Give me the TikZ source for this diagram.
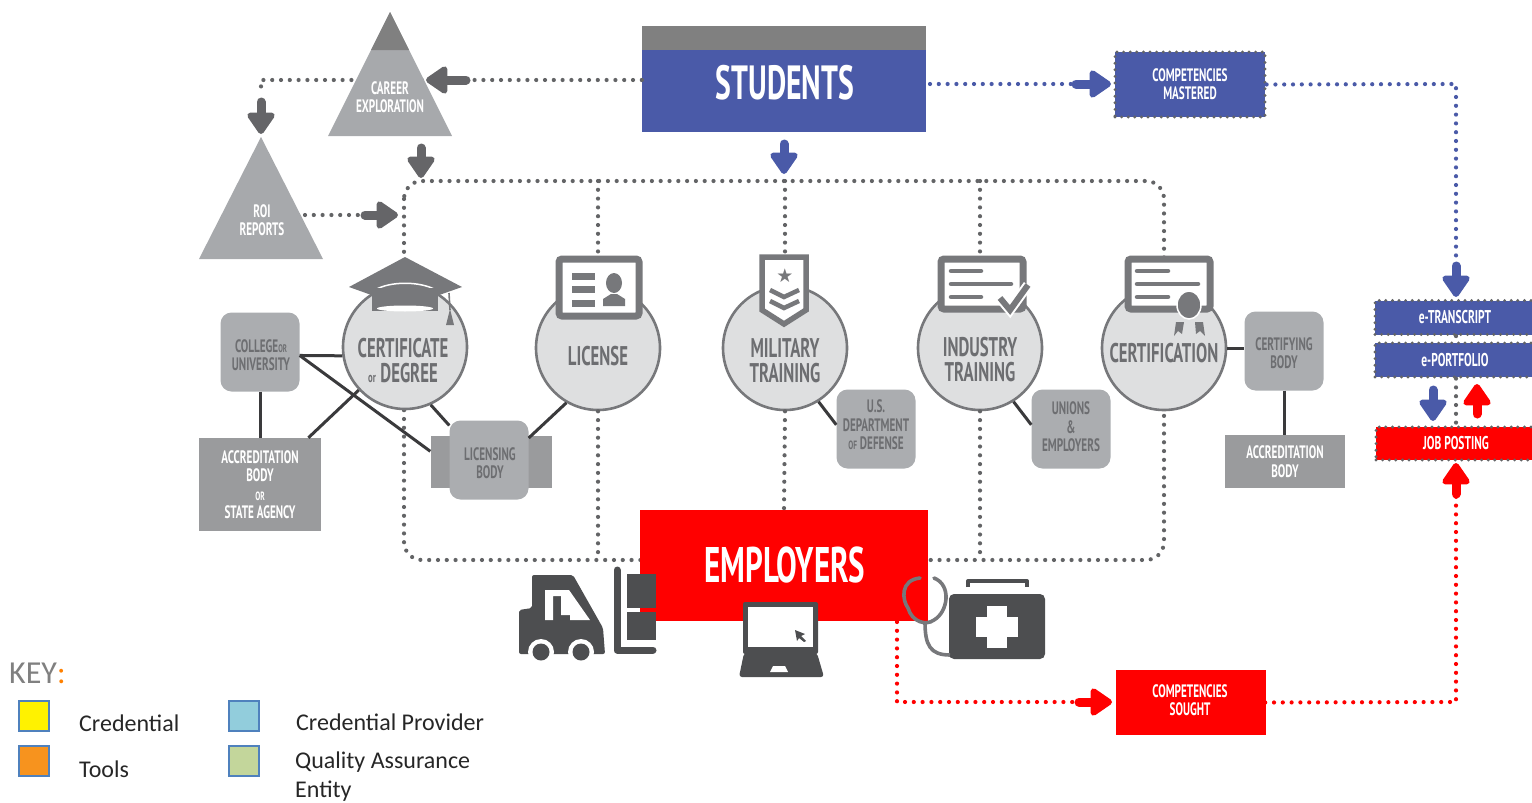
\documentclass[tikz,border=0pt]{standalone}
\usepackage{fontspec}
\setmainfont{Carlito}
\newfontfamily\capfont[FakeStretch=0.62]{PT Sans}
\newfontfamily\circlefont[FakeStretch=0.62]{PT Sans}
\newfontfamily\symbolfont{DejaVu Sans}
\usetikzlibrary{arrows.meta}
\definecolor{studentblue}{HTML}{4A5AA8}
\definecolor{employerred}{HTML}{FF0000}
\definecolor{bandgray}{HTML}{808080}
\definecolor{trianglegray}{HTML}{A7A9AC}
\definecolor{circlegray}{HTML}{DEDFE0}
\definecolor{edgegray}{HTML}{77787B}
\definecolor{providergray}{HTML}{ABADB0}
\definecolor{qualitygray}{HTML}{9A9B9D}
\definecolor{labelgray}{HTML}{6D6E71}
\definecolor{icongray}{HTML}{4D4E50}
\definecolor{dotgray}{HTML}{636466}
\definecolor{linedark}{HTML}{3A3A3C}
\definecolor{keyblue}{HTML}{4F81BD}
\tikzset{
  dotline/.style={line width=4.2pt,line cap=round,dash pattern=on 0pt off 8.8pt},
  graydots/.style={dotline,draw=dotgray},
  bluedots/.style={dotline,draw=studentblue},
  reddots/.style={dotline,draw=employerred},
  fatarrow/.style={line width=9pt,line cap=round,-{Triangle[width=31pt,length=24pt,round]}},
  grayarrow/.style={fatarrow,draw=dotgray!85!labelgray,fill=dotgray!85!labelgray},
  bluearrow/.style={fatarrow,draw=studentblue,fill=studentblue},
  redarrow/.style={fatarrow,draw=employerred,fill=employerred},
  credcircle/.style={circle,draw=edgegray,fill=circlegray,line width=2.6pt,minimum size=124pt,inner sep=0pt},
  circlelabel/.style={font=\circlefont\bfseries\fontsize{27}{25}\selectfont,text=labelgray,align=center,inner sep=0pt},
  provider/.style={rounded corners=11pt,fill=providergray,minimum width=79pt,minimum height=79pt,inner sep=0pt},
  providerlabel/.style={font=\capfont\bfseries\fontsize{18}{18.5}\selectfont,text=labelgray,align=center,inner sep=0pt},
  qualitybox/.style={fill=qualitygray,inner sep=0pt,font=\capfont\bfseries\fontsize{18}{18.5}\selectfont,text=white,align=center},
  whitetext/.style={inner sep=0pt,text=white,font=\capfont\bfseries\fontsize{18}{18.5}\selectfont,align=center},
  dotbox/.style={draw=dotgray,line width=3.2pt,line cap=round,dash pattern=on 0pt off 6.6pt},
  slimbox/.style={dotbox,minimum width=160pt,inner sep=0pt,text=white,font=\capfont\bfseries\fontsize{18.5}{20}\selectfont},
  triangletext/.style={inner sep=0pt,text=white,font=\capfont\bfseries\fontsize{18}{18.5}\selectfont,align=center},
  swatch/.style={draw=keyblue,line width=1.6pt,minimum size=30pt,inner sep=0pt,anchor=north west},
  keytext/.style={font=\fontsize{24}{26}\selectfont,text=black!85,anchor=west,inner sep=0pt},
  bodyline/.style={draw=linedark,line width=3pt}
}
\begin{document}
\begin{tikzpicture}[x=1pt,y=-1pt]
  \useasboundingbox (0,0) rectangle (1532,803);
  \coordinate (looptl) at (404,181);
  \coordinate (loopbr) at (1164,560);
  \draw[graydots,rounded corners=18pt] (looptl) rectangle (loopbr);

  \node[fill=studentblue,minimum width=284pt,minimum height=106pt,inner sep=0pt] (students) at (784,79) {};
  \fill[bandgray] (students.north west) rectangle (926,50);
  \node[text=white,inner sep=0pt,font=\capfont\bfseries\fontsize{48}{50}\selectfont] (studentslabel) at (785,83) {STUDENTS};

  \coordinate (roicorner) at (261,80);
  \coordinate (roidrop) at (261,94);
  \coordinate (careerin) at (466,80);
  \draw[graydots] (students.west |- careerin) -- (roicorner) -- (roidrop);

  \fill[trianglegray] (390,12) -- (452,136) -- (328,136) -- cycle;
  \fill[bandgray] (390,12) -- (409,50) -- (371,50) -- cycle;
  \fill[trianglegray] (261,137) -- (323,259) -- (199,259) -- cycle;
  \node[triangletext] (career) at (390,97) {CAREER\\EXPLORATION};
  \node[triangletext] (roi) at (262,220) {ROI\\REPORTS};

  \coordinate (careertip) at (426,80);
  \coordinate (roiin) at (261,102);
  \coordinate (roitip) at (261,134);
  \coordinate (careerdown) at (421,148);
  \coordinate (careerdowntip) at (421,178);
  \coordinate (roiout) at (305,215);
  \coordinate (roimid) at (365,215);
  \coordinate (roiouttip) at (398,215);
  \draw[grayarrow] (careerin) -- (careertip);
  \draw[grayarrow] (roiin) -- (roitip);
  \draw[grayarrow] (careerdown) -- (careerdowntip);
  \draw[graydots] (roiout) -- (roimid);
  \draw[grayarrow] (roimid) -- (roiouttip);

  \node[credcircle] (certificate) at (405,347) {};
  \node[credcircle] (license) at (598,348) {};
  \node[credcircle] (military) at (785,348) {};
  \node[credcircle] (industry) at (980,348) {};
  \node[credcircle] (certification) at (1164,348) {};

  \node[fill=employerred,minimum width=288pt,minimum height=111pt,inner sep=0pt] (employers) at (784,565.5) {};
  \node[text=white,inner sep=0pt,font=\capfont\bfseries\fontsize{50}{52}\selectfont] (employerslabel) at (785,565) {EMPLOYERS};

  \foreach \c in {license,military,industry}
    \draw[graydots] (\c |- looptl) -- (\c.north);
  \foreach \c in {license,industry}
    \draw[graydots] (\c.south) -- (\c |- loopbr);
  \draw[graydots] (military.south) -- (employers.north);

  \node[circlelabel] (certificatelabel) at (403,361) {CERTIFICATE\\{\fontsize{14}{14}\selectfont or}\,DEGREE};
  \node[circlelabel] (licenselabel) at (598,356) {LICENSE};
  \node[circlelabel] (militarylabel) at (785,361) {MILITARY\\TRAINING};
  \node[circlelabel] (industrylabel) at (980,360) {INDUSTRY\\TRAINING};
  \node[circlelabel] (certificationlabel) at (1164,353) {CERTIFICATION};

  \node[fill=qualitygray,minimum width=121pt,minimum height=52pt,inner sep=0pt] (licensingband) at (491,462) {};
  \node[provider] (college) at (260,352) {};
  \node[provider] (licensing) at (489,460) {};
  \node[provider] (defense) at (876,429) {};
  \node[provider] (unions) at (1071,429) {};
  \node[provider] (certifying) at (1284,351) {};
  \node[providerlabel] (collegelabel) at (261,355) {COLLEGE{\fontsize{11}{11}\selectfont OR}\\UNIVERSITY};
  \node[providerlabel] (licensinglabel) at (490,463) {LICENSING\\BODY};
  \node[providerlabel] (defenselabel) at (876,425) {U.S.\\DEPARTMENT\\{\fontsize{12}{12}\selectfont OF} DEFENSE};
  \node[providerlabel] (unionslabel) at (1071,427) {UNIONS\\\&\\EMPLOYERS};
  \node[providerlabel] (certifyinglabel) at (1284,353) {CERTIFYING\\BODY};
  \node[qualitybox,minimum width=122pt,minimum height=93pt] (accredstate) at (260,484.5) {ACCREDITATION\\BODY\\{\fontsize{12}{12}\selectfont OR}\\STATE AGENCY};
  \node[qualitybox,minimum width=120pt,minimum height=53pt] (accredbody) at (1285,461.5) {ACCREDITATION\\BODY};

  \draw[bodyline] (college.-5) -- (certificate.188);
  \draw[bodyline] (college.-5) -- (licensingband.170);
  \draw[bodyline] (college.south) -- (accredstate.north -| college.south);
  \draw[bodyline] (accredstate.44) -- (certificate.223);
  \draw[bodyline] (certificate.-66) -- (licensing.139);
  \draw[bodyline] (license.-120) -- (licensing.29);
  \draw[bodyline] (military.-58) -- (defense.174);
  \draw[bodyline] (industry.-58) -- (unions.174);
  \draw[bodyline] (certification.east) -- (certifying.west |- certification.east);
  \draw[bodyline] (certifying.south) -- (accredbody.north -| certifying.south);

  % cap
  \fill[edgegray] (405,257) -- (462,287) -- (405,307) -- (349,287) -- cycle;
  \draw[white,line width=1.5pt] (375,290) .. controls (390,281) and (420,281) .. (436,290);
  \fill[edgegray] (372,288) -- (438,288) -- (438,311) -- (372,311) -- cycle;
  \fill[white] (405,308.5) ellipse (28pt and 3pt);
  \draw[edgegray,line width=1.6pt] (449,293) -- (450,310);
  \fill[edgegray] (450,309) -- (454,325) -- (446,325) -- cycle;

  % id card
  \draw[draw=edgegray,fill=white,line width=7pt,rounded corners=3pt] (559,259) rectangle (639,316);
  \foreach \y in {276,289,303}
    \fill[edgegray] (572,\y-3.5) rectangle (595,\y+3.5);
  \fill[edgegray] (614,283) ellipse (8pt and 10pt);
  \fill[edgegray] (603,306) -- (603,299) -- (611,294) -- (617,294) -- (625,299) -- (625,306) -- cycle;

  % badge
  \draw[draw=edgegray,fill=white,line width=5.5pt,line join=miter] (762,257) -- (806,257) -- (806,310) -- (784,324) -- (762,310) -- cycle;
  \node[inner sep=0pt,text=edgegray,font=\symbolfont\fontsize{19}{19}\selectfont] (star) at (785,276) {★};
  \draw[edgegray,line width=4.5pt] (770,290) -- (784,297) -- (799,290);
  \draw[edgegray,line width=4.5pt] (770,301) -- (784,308) -- (799,301);

  % training certificate
  \draw[draw=edgegray,fill=white,line width=7pt,rounded corners=3pt] (941,259) rectangle (1023,309);
  \foreach \x/\y in {981/271,1011/284,981/297}
    \draw[edgegray,line width=4.5pt,line cap=round] (951,\y) -- (\x,\y);
  \draw[white,line width=10pt] (1000,298) -- (1010,310) -- (1028,285);
  \draw[edgegray,line width=6pt] (1000,298) -- (1010,310) -- (1028,285);

  % certification certificate
  \draw[draw=edgegray,fill=white,line width=7pt,rounded corners=3pt] (1128,259) rectangle (1210,309);
  \foreach \x/\y in {1168/271,1198/284,1168/297}
    \draw[edgegray,line width=4.5pt,line cap=round] (1137,\y) -- (\x,\y);
  \fill[edgegray] (1176,322) -- (1184,322) -- (1182,334) -- (1178,331) -- (1174,336) -- cycle;
  \fill[edgegray] (1195,322) -- (1203,322) -- (1205,336) -- (1200,331) -- (1196,334) -- cycle;
  \draw[draw=white,fill=edgegray,line width=1.5pt] (1189,305) ellipse (12pt and 14pt);

  % forklift
  \fill[icongray,rounded corners=2pt] (532,575) -- (573,575) -- (603,628) -- (605,654) -- (519,654) -- (519,610) -- (532,608) -- cycle;
  \fill[white] (545,590) -- (569,590) -- (590,620) -- (570,620) -- (570,615) -- (561,615) -- (561,596) -- (553,596) -- (553,620) -- (545,620) -- cycle;
  \foreach \x in {541,581} {
    \fill[white] (\x,652) circle (13pt);
    \fill[icongray] (\x,652) circle (8.5pt);
  }
  \draw[icongray,line width=7pt,line cap=round,line join=round] (617,570) -- (617,650) -- (653,650);
  \fill[icongray] (627,574) rectangle (656,608);
  \fill[icongray] (627,612) rectangle (656,640);

  % laptop
  \fill[icongray,rounded corners=2pt] (743,602) rectangle (818,654);
  \fill[white] (748,607) rectangle (813,647);
  \fill[icongray,rounded corners=3pt] (744,653) -- (817,653) -- (824,677) -- (739,677) -- cycle;
  \fill[white] (773,666) -- (785,666) -- (788,672) -- (770,672) -- cycle;
  \fill[icongray] (795,630) -- (805,634) -- (801,636) -- (806,641) -- (804,642) -- (799,638) -- (797,641) -- cycle;

  % medical kit
  \draw[icongray,line width=4pt,line join=round] (968,587) -- (968,581) -- (1027,581) -- (1027,587);
  \fill[icongray,rounded corners=5pt] (949,594) rectangle (1045,659);
  \fill[white] (987,606) rectangle (1007,648);
  \fill[white] (976,617) rectangle (1018,637);
  \draw[edgegray,line width=3.6pt,line cap=round] (920,578) .. controls (900,580) and (902,600) .. (908,608) .. controls (912,622) and (926,626) .. (934,620) .. controls (948,612) and (952,585) .. (934,578);
  \draw[edgegray,line width=3.6pt] (925,622) .. controls (925,645) and (930,655) .. (950,655);

  % outcomes
  \node[fill=studentblue,dotbox,minimum width=150pt,minimum height=65pt,inner sep=0pt] (mastered) at (1190,84.5) {};
  \node[whitetext] (masteredlabel) at (1190,84) {COMPETENCIES\\MASTERED};
  \node[fill=employerred,draw=employerred,minimum width=149pt,minimum height=64pt,inner sep=0pt] (sought) at (1190.5,702.5) {};
  \node[whitetext] (soughtlabel) at (1190,700) {COMPETENCIES\\SOUGHT};

  \node[fill=studentblue,slimbox,minimum height=34pt] (transcript) at (1455,317.5) {e-TRANSCRIPT};
  \node[fill=studentblue,slimbox,minimum height=34pt] (portfolio) at (1455,360) {e-PORTFOLIO};
  \node[fill=employerred,slimbox,minimum height=33pt] (posting) at (1456,443.5) {JOB POSTING};

  \coordinate (masteredcorner) at (1456,84);
  \coordinate (masteredend) at (1456,266);
  \coordinate (masteredtip) at (1456,297);
  \coordinate (masteredin) at (1076,84);
  \coordinate (masteredintip) at (1111,84);
  \draw[bluedots] (930,84) -- (masteredin);
  \draw[bluearrow] (masteredin) -- (masteredintip);
  \draw[bluedots] (mastered.east) -- (masteredcorner) -- (masteredend);
  \draw[bluearrow] (masteredend) -- (masteredtip);
  \coordinate (studentsdown) at (784,144);
  \coordinate (studentstip) at (784,174);
  \draw[bluearrow] (studentsdown) -- (studentstip);

  \draw[graydots] (transcript.south -| masteredtip) -- (portfolio.north -| masteredtip);
  \draw[graydots] (portfolio.south -| masteredtip) -- (posting.north -| masteredtip);
  \coordinate (postingdown) at (1433,390);
  \coordinate (postingdowntip) at (1433,421);
  \coordinate (postingup) at (1477,414);
  \coordinate (postinguptip) at (1477,384);
  \draw[bluearrow] (postingdown) -- (postingdowntip);
  \draw[redarrow] (postingup) -- (postinguptip);

  \coordinate (soughtcorner) at (1456,702);
  \coordinate (soughtup) at (1456,494);
  \coordinate (soughttip) at (1456,463);
  \coordinate (employersout) at (897,622);
  \coordinate (employerscorner) at (897,702);
  \coordinate (soughtin) at (1079,702);
  \coordinate (soughtintip) at (1112,702);
  \draw[reddots] (sought.east) -- (soughtcorner) -- (soughtup);
  \draw[redarrow] (soughtup) -- (soughttip);
  \draw[reddots] (employersout) -- (employerscorner) -- (soughtin);
  \draw[redarrow] (soughtin) -- (soughtintip);

  % key
  \node[anchor=west,inner sep=0pt,text=black!50,font=\fontsize{32}{34}\selectfont] (keytitle) at (9,673) {KEY\textcolor{orange}{:}};
  \node[swatch,fill=yellow] (credentialkey) at (18,700) {};
  \node[swatch,fill={rgb,255:red,247;green,147;blue,30}] (toolskey) at (18,745) {};
  \node[swatch,fill={rgb,255:red,146;green,205;blue,220}] (providerkey) at (228,700) {};
  \node[swatch,fill={rgb,255:red,195;green,214;blue,155}] (qualitykey) at (228,745) {};
  \node[keytext] (credentialtext) at (79,723) {Credential};
  \node[keytext] (toolstext) at (79,769) {Tools};
  \node[keytext] (providertext) at (296,722) {Credential Provider};
  \node[keytext] (qualitytext) at (295,762) {Quality Assurance};
  \node[keytext] (entitytext) at (295,791) {Entity};
\end{tikzpicture}
\end{document}
